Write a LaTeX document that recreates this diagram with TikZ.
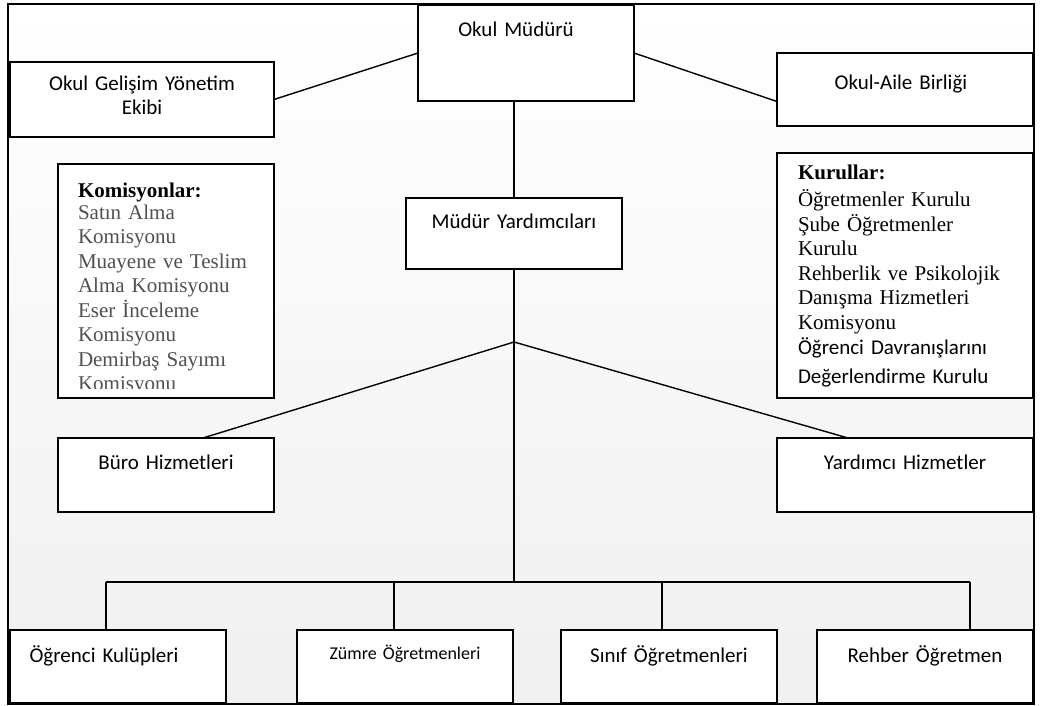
\documentclass[tikz,border=0pt]{standalone}
\usepackage{fontspec}
\newfontfamily\calibri{Carlito}
\newfontfamily\tnr{Liberation Serif}
\usepackage{tikz}
\usetikzlibrary{positioning}
\definecolor{framegray}{RGB}{240,240,240}
\definecolor{listgray}{RGB}{80,80,80}
\tikzset{
  orgbox/.style={rectangle, draw, line width=1.5pt, fill=white, inner sep=0pt,
    outer sep=0pt, align=center, font=\calibri\fontsize{21}{24.5}\selectfont},
  listbox/.style={orgbox, align=left, font=\tnr\fontsize{21}{24.5}\selectfont},
  link/.style={line width=1.4pt},
}

\begin{document}
\begin{tikzpicture}[x=1pt, y=-1pt]
  \useasboundingbox (0,0) rectangle (1042,706);
  \shade[top color=white, bottom color=framegray] (8,4) rectangle (1034,704);
  \draw[line width=2.4pt] (8,4) rectangle (1034,704);

  % top level
  \node[orgbox, anchor=north west, text width=216pt, text height=32pt, text depth=64pt]
    (okmd) at (418,5) {\hspace*{-20pt}Okul Müdürü};
  \node[orgbox, anchor=north west, text width=264pt, text height=28.5pt, text depth=46.5pt]
    (ogye) at (10,62) {Okul Gelişim Yönetim\\Ekibi};
  \node[orgbox, anchor=north west, text width=256pt, text height=37pt, text depth=36pt]
    (oab) at (777,53) {\hspace*{-8pt}Okul-Aile Birliği};

  % side lists
  \node[listbox, below=27pt of ogye.south east, anchor=north east, inner xsep=20pt,
    text width=176pt, text height=33pt, text depth=201pt] (komis) {};
  \begin{scope}
    \clip (komis.north west) rectangle ([yshift=10pt]komis.south east);
    \node[listbox, draw=none, fill=none, anchor=north west, inner xsep=20pt,
      text width=176pt, text height=33pt, text=listgray] (komislist) at (komis.north west)
      {\textcolor{black}{\textbf{Komisyonlar:}}\\[-2.5pt]
       Satın Alma\\Komisyonu\\Muayene ve Teslim\\Alma Komisyonu\\
       Eser İnceleme\\Komisyonu\\Demirbaş Sayımı\\Komisyonu};
  \end{scope}
  \node[listbox, below=27pt of oab, inner xsep=21pt,
    text width=214pt, text height=27pt, text depth=218pt] (kurul)
    {\textbf{Kurullar:}\\[2.5pt]
     Öğretmenler Kurulu\\Şube Öğretmenler\\Kurulu\\Rehberlik ve Psikolojik\\
     Danışma Hizmetleri\\Komisyonu\\[1pt]
     {\calibri Öğrenci Davranışlarını}\\[4.5pt]
     {\calibri Değerlendirme Kurulu}};

  % middle level
  \node[orgbox, anchor=north west, text width=216pt, text height=31pt, text depth=40pt]
    (myard) at (406,198) {Müdür Yardımcıları};
  \node[orgbox, below=40pt of komis, text width=216pt, text height=31pt, text depth=43pt]
    (buro) {Büro Hizmetleri};
  \node[orgbox, below=40pt of kurul, text width=256pt, text height=31pt, text depth=43pt]
    (yard) {Yardımcı Hizmetler};

  % bottom row
  \node[orgbox, anchor=north west, text width=216pt, text height=32pt, text depth=41pt]
    (ogrk) at (10,630) {\hspace*{-28pt}Öğrenci Kulüpleri};
  \node[orgbox, right=71pt of ogrk, text width=216pt, text height=29pt, text depth=44pt,
    font=\calibri\fontsize{18}{22}\selectfont] (zumre) {Zümre Öğretmenleri};
  \node[orgbox, right=48pt of zumre, text width=216pt, text height=32pt, text depth=41pt]
    (sinif) {Sınıf Öğretmenleri};
  \node[orgbox, right=40pt of sinif, text width=216pt, text height=32pt, text depth=41pt]
    (rehber) {Rehber Öğretmen};

  \coordinate (split) at (514,342);
  \coordinate (bus) at (514,582);
  \coordinate (d1) at (106,582);
  \coordinate (d2) at (394,582);
  \coordinate (d3) at (662,582);
  \coordinate (d4) at (970,582);

  \draw[link] (okmd.west) -- (ogye.east);
  \draw[link] (okmd.east) -- ([yshift=-12pt]oab.west);
  \draw[link] (myard.north |- okmd.south) -- (myard.north);
  \draw[link] (myard.south) -- (bus);
  \draw[link] (split) -- ([xshift=37pt]buro.north);
  \draw[link] (split) -- ([xshift=-57pt]yard.north);
  \draw[link] (d1) -- (d4);
  \foreach \d/\n in {d1/ogrk, d2/zumre, d3/sinif, d4/rehber}
    \draw[link] (\d) -- (\d |- \n.north);
\end{tikzpicture}
\end{document}
